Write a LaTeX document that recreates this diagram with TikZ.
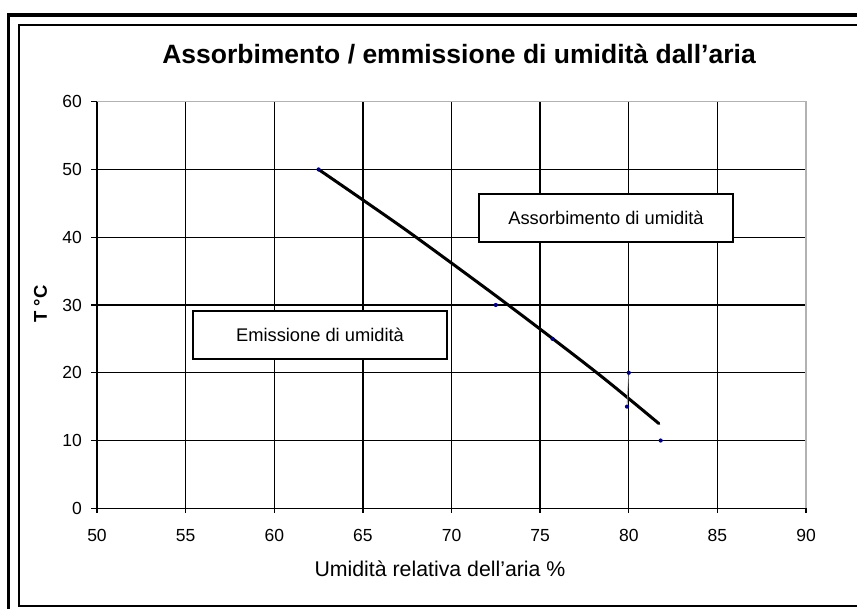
\documentclass[tikz,border=0pt]{standalone}
\usepackage{fontspec}
\setmainfont{Liberation Sans}
\definecolor{navy}{RGB}{0,0,128}
\begin{document}
\begin{tikzpicture}[x=1pt,y=1pt,
  grid/.style={line width=1.3pt, black},
  bordergray/.style={line width=1.2pt, black!30},
  ticklbl/.style={inner sep=0pt, font=\fontsize{17.5}{19}\selectfont},
  labelbox/.style={draw=black, line width=1.7pt, fill=white, inner sep=0pt,
    minimum width=254pt, minimum height=48pt, font=\fontsize{18.3}{20}\selectfont},
  datadot/.style={fill=navy}]
\useasboundingbox (0,0) rectangle (857,609);
\clip (0,0) rectangle (857,609);
\fill[white] (0,0) rectangle (857,609);
% frames
\draw[line width=3.7pt] (8.5,-20) -- (8.5,594) -- (900,594);
\draw[line width=1.8pt] (19,3) rectangle (900,584);
% title
\node[inner sep=0pt, anchor=base, font=\fontsize{26.5}{29}\bfseries\selectfont] (title) at (459,545.7)
  {Assorbimento / emmissione di umidità dall’aria};
% plot
\begin{scope}[shift={(-789.25pt,100.7pt)},x=17.725pt,y=6.777pt]
  \foreach \u in {55,60,...,85} \draw[grid] (\u,0) -- (\u,60);
  \foreach \v in {10,20,...,50} \draw[grid] (50,\v) -- (90,\v);
  \draw[bordergray] (50,60) -- (90,60) -- (90,0);
  \draw[grid] (50,60) -- (50,0) -- (90,0);
  \foreach \v in {0,10,...,60} \draw[grid] (50,\v) -- ++(-6pt,0);
  \foreach \u in {50,55,...,90} \draw[grid] (\u,0) -- ++(0,-5pt);
  \foreach \v in {0,10,...,60} \node[ticklbl, anchor=east] (yl\v) at ([xshift=-15pt]50,\v) {\v};
  \foreach \u in {50,55,...,90} \node[ticklbl] (xl\u) at ([yshift=-27.4pt]\u,0) {\u};
  % trend curve
  \draw[line width=3pt, line join=round, line cap=round] plot[smooth] coordinates
    {(62.5,50) (65,45.5) (68.0,40) (73.2,30) (78.2,20) (81.7,12.5)};
  \draw[line width=0.6pt, black!50] (80,20) -- (79.9,15);
  \foreach \p in {(62.5,50),(72.5,30),(75.7,25),(80,20),(79.9,15),(81.8,10)}
    \fill[datadot] \p circle (2.1pt);
\end{scope}
% boxes
\node[labelbox] (emis) at (320,274) {Emissione di umidità};
\node[labelbox] (assorb) at (606,391) {Assorbimento di umidità};
% axis titles
\node[inner sep=0pt, font=\fontsize{21.3}{23}\selectfont] (xlabel) at (440,40) {Umidità relativa dell’aria \%};
\node[inner sep=0pt, rotate=90, font=\fontsize{18.5}{20}\bfseries\selectfont] (ylabel) at (40.5,305) {T °C};
\end{tikzpicture}
\end{document}
